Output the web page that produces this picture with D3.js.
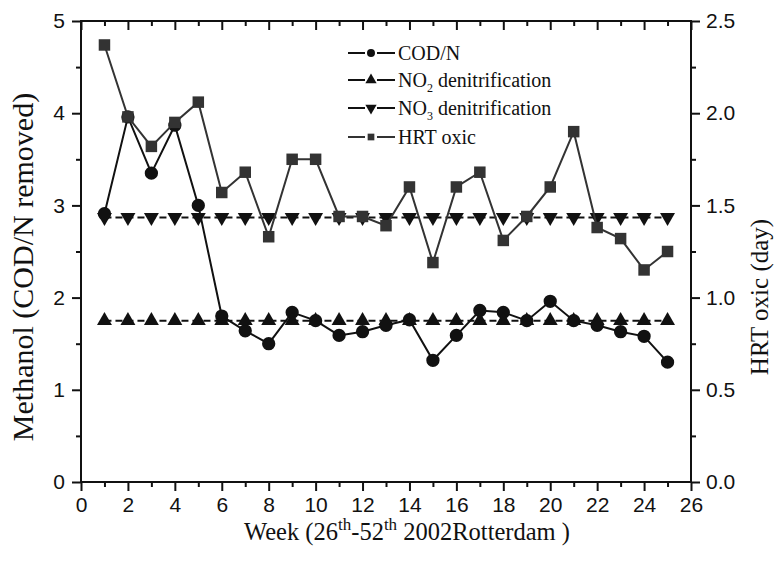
<!DOCTYPE html>
<html>
<head>
<meta charset="utf-8">
<script src="https://cdn.jsdelivr.net/npm/d3@7"></script>
<style>
  body { margin: 0; background: #fff; }
  .tick text { font-family: "Liberation Sans", Arial, sans-serif; font-size: 21px; fill: #111; }
  .serif { font-family: "Liberation Serif", "Times New Roman", serif; fill: #111; }
</style>
</head>
<body>
<svg width="774" height="563"></svg>
<script>
// values
const weeks = [1, 2, 3, 4, 5, 6, 7, 8, 9, 10, 11, 12, 13, 14, 15, 16, 17, 18, 19, 20, 21, 22, 23, 24, 25];
const codN = [2.91, 3.96, 3.35, 3.87, 3.00, 1.80, 1.64, 1.50, 1.84, 1.75, 1.59, 1.63, 1.70, 1.76, 1.32,
              1.59, 1.86, 1.84, 1.75, 1.96, 1.75, 1.70, 1.63, 1.58, 1.30];
const no2Denit = [1.75, 1.75, 1.75, 1.75, 1.75, 1.75, 1.75, 1.75, 1.75, 1.75, 1.75, 1.75, 1.75, 1.75, 1.75,
                  1.75, 1.75, 1.75, 1.75, 1.75, 1.75, 1.75, 1.75, 1.75, 1.75];
const no3Denit = [2.87, 2.87, 2.87, 2.87, 2.87, 2.87, 2.87, 2.87, 2.87, 2.87, 2.87, 2.87, 2.87, 2.87, 2.87,
                  2.87, 2.87, 2.87, 2.87, 2.87, 2.87, 2.87, 2.87, 2.87, 2.87];
const hrtOxic = [2.37, 1.98, 1.82, 1.95, 2.06, 1.57, 1.68, 1.33, 1.75, 1.75, 1.44, 1.44, 1.39, 1.60, 1.19,
                 1.60, 1.68, 1.31, 1.44, 1.60, 1.90, 1.38, 1.32, 1.15, 1.25];

const xTicks = [0, 2, 4, 6, 8, 10, 12, 14, 16, 18, 20, 22, 24, 26];
const xMinor = [1, 3, 5, 7, 9, 11, 13, 15, 17, 19, 21, 23, 25];
const yLeftTicks = [0, 1, 2, 3, 4, 5];
const yLeftMinor = [0.5, 1.5, 2.5, 3.5, 4.5];
const yRightTicks = [0, 0.5, 1.0, 1.5, 2.0, 2.5];
const yRightMinor = [0.25, 0.75, 1.25, 1.75, 2.25];

const margin = {top: 21, right: 83, bottom: 81, left: 81};
const width = 774 - margin.left - margin.right;
const height = 563 - margin.top - margin.bottom;

const svg = d3.select("svg");
const chart = svg.append("g")
    .attr("transform", `translate(${margin.left}, ${margin.top})`);

const x = d3.scaleLinear().domain([0, 26]).range([0, width]);
const yLeft = d3.scaleLinear().domain([0, 5]).range([height, 0]);
const yRight = d3.scaleLinear().domain([0, 2.5]).range([height, 0]);

// axes: major ticks with labels, minor ticks without
function styleAxis(g) {
  g.select(".domain").remove();
  g.selectAll("line").attr("stroke", "#111").attr("stroke-width", 2);
}

chart.append("g")
    .attr("transform", `translate(0, ${height})`)
    .call(d3.axisBottom(x).tickValues(xTicks).tickSize(9).tickPadding(6).tickFormat(d3.format("d")))
    .call(styleAxis);
chart.append("g")
    .attr("transform", `translate(0, ${height})`)
    .call(d3.axisBottom(x).tickValues(xMinor).tickSize(5).tickFormat(""))
    .call(styleAxis);
// top axis, ticks inward
chart.append("g")
    .call(d3.axisBottom(x).tickValues(xTicks).tickSize(9).tickFormat(""))
    .call(styleAxis);
chart.append("g")
    .call(d3.axisBottom(x).tickValues(xMinor).tickSize(5).tickFormat(""))
    .call(styleAxis);

chart.append("g")
    .call(d3.axisLeft(yLeft).tickValues(yLeftTicks).tickSize(9).tickPadding(7).tickFormat(d3.format("d")))
    .call(styleAxis);
chart.append("g")
    .call(d3.axisLeft(yLeft).tickValues(yLeftMinor).tickSize(5).tickFormat(""))
    .call(styleAxis);

chart.append("g")
    .attr("transform", `translate(${width}, 0)`)
    .call(d3.axisRight(yRight).tickValues(yRightTicks).tickSize(9).tickPadding(6).tickFormat(d3.format(".1f")))
    .call(styleAxis);
chart.append("g")
    .attr("transform", `translate(${width}, 0)`)
    .call(d3.axisRight(yRight).tickValues(yRightMinor).tickSize(5).tickFormat(""))
    .call(styleAxis);

// frame
chart.append("rect")
    .attr("width", width)
    .attr("height", height)
    .attr("fill", "none")
    .attr("stroke", "#111")
    .attr("stroke-width", 2);

// series
const series = [
  {name: "COD/N", values: codN, scale: yLeft, symbol: d3.symbolCircle, size: 139, rotate: 0, color: "#111", dash: null},
  {name: "NO2", values: no2Denit, scale: yLeft, symbol: d3.symbolTriangle, size: 97, rotate: 0, color: "#111", dash: "7,4"},
  {name: "NO3", values: no3Denit, scale: yLeft, symbol: d3.symbolTriangle, size: 97, rotate: 180, color: "#111", dash: "7,4"},
  {name: "HRT oxic", values: hrtOxic, scale: yRight, symbol: d3.symbolSquare, size: 132, rotate: 0, color: "#333", dash: null}
];

series.forEach(function(s) {
  const line = d3.line()
      .x(function(d, i) { return x(weeks[i]); })
      .y(function(d) { return s.scale(d); });

  chart.append("path")
      .datum(s.values)
      .attr("fill", "none")
      .attr("stroke", s.color)
      .attr("stroke-width", 2)
      .attr("stroke-dasharray", s.dash)
      .attr("d", line);

  chart.selectAll(null)
      .data(s.values)
      .enter().append("path")
      .attr("d", d3.symbol().type(s.symbol).size(s.size))
      .attr("fill", s.color)
      .attr("transform", function(d, i) {
        return `translate(${x(weeks[i])}, ${s.scale(d)}) rotate(${s.rotate})`;
      });
});

// legend
const legend = svg.append("g");
const legendRows = [53, 80, 108, 137];
const legendSizes = [50, 55, 55, 45];
series.forEach(function(s, i) {
  const row = legend.append("g").attr("transform", `translate(0, ${legendRows[i]})`);
  row.append("line").attr("x1", 348).attr("x2", 365).attr("stroke", s.color).attr("stroke-width", 2);
  row.append("line").attr("x1", 377).attr("x2", 395).attr("stroke", s.color).attr("stroke-width", 2);
  row.append("path")
      .attr("d", d3.symbol().type(s.symbol).size(legendSizes[i]))
      .attr("fill", s.color)
      .attr("transform", `translate(371, 0) rotate(${s.rotate})`);
  const t = row.append("text")
      .attr("class", "serif")
      .attr("x", 398)
      .attr("y", 7)
      .style("font-size", "20px");
  if (s.name === "NO2" || s.name === "NO3") {
    t.append("tspan").text("NO");
    t.append("tspan").attr("dy", 5).style("font-size", "12px").text(s.name.slice(2));
    t.append("tspan").attr("dy", -5).text(" denitrification");
  } else {
    t.text(s.name);
  }
});

// x axis title
const xTitle = svg.append("text")
    .attr("class", "serif")
    .attr("x", 407)
    .attr("y", 540)
    .attr("text-anchor", "middle")
    .style("font-size", "24.5px");
xTitle.append("tspan").text("Week (26");
xTitle.append("tspan").attr("dy", -10).style("font-size", "17px").text("th");
xTitle.append("tspan").attr("dy", 10).text("-52");
xTitle.append("tspan").attr("dy", -10).style("font-size", "17px").text("th");
xTitle.append("tspan").attr("dy", 10).text(" 2002Rotterdam )");

// y axis titles
svg.append("text")
    .attr("class", "serif")
    .attr("transform", "translate(33, 267) rotate(-90)")
    .attr("text-anchor", "middle")
    .style("font-size", "30px")
    .text("Methanol (COD/N removed)");

svg.append("text")
    .attr("class", "serif")
    .attr("transform", "translate(768, 297) rotate(-90)")
    .attr("text-anchor", "middle")
    .style("font-size", "25px")
    .text("HRT oxic (day)");
</script>
</body>
</html>
